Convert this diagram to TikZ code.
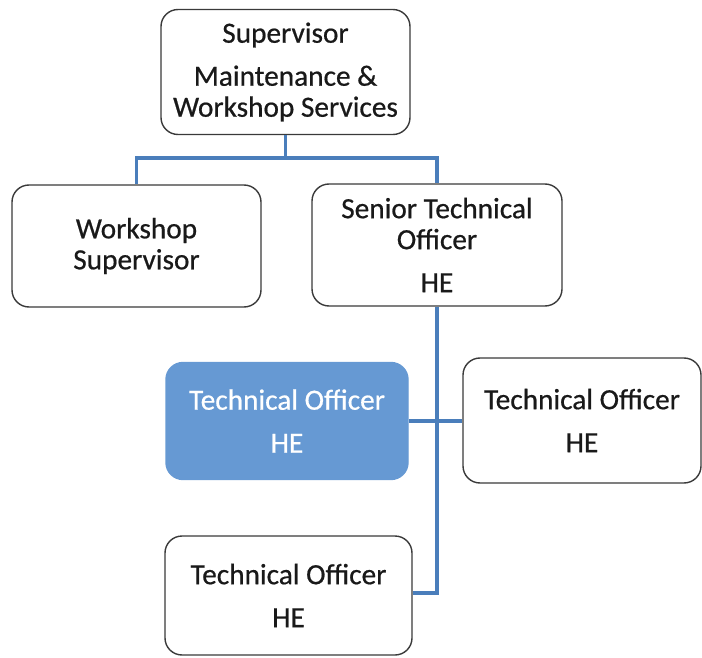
\documentclass[tikz,border=0pt]{standalone}
\usepackage{fontspec}
\setmainfont{Carlito}[UprightFeatures={FakeBold=0.6}]
\definecolor{linkblue}{HTML}{4A7EBB}
\definecolor{boxedge}{HTML}{3A3A3A}
\definecolor{fillblue}{HTML}{6699D3}
\begin{document}
\begin{tikzpicture}[x=1pt,y=-1pt,
  box/.style={draw=boxedge,line width=1.4pt,rounded corners=17pt,fill=white,
    minimum width=#1,align=center,inner sep=0pt,
    font=\fontsize{29.3}{31}\selectfont,text=black!90},
  link/.style={draw=linkblue,line width=3.4pt}]
\useasboundingbox (0,0) rectangle (702,658);
\node[box=249pt,minimum height=125pt] (top) at (285.5,72) {Supervisor\\[12pt]Maintenance \&\\Workshop Services};
\node[box=249pt,minimum height=122pt] (ws) at (136.5,246) {Workshop\\Supervisor};
\node[box=250pt,minimum height=122pt] (sto) at (437,245) {Senior Technical\\Officer\\[12pt]HE};
\node[box=242pt,minimum height=117pt,fill=fillblue,draw=fillblue,text=white] (blue) at (287,421) {Technical Officer\\[12pt]HE};
\node[box=238pt,minimum height=125pt] (rt) at (582,420.5) {Technical Officer\\[12pt]HE};
\node[box=247pt,minimum height=119pt] (bt) at (288.5,595.5) {Technical Officer\\[12pt]HE};
\draw[link] (top.south) -- ++(0,23) coordinate (bar);
\draw[link] (ws.north) |- (bar) -| (sto.north);
\draw[link] (sto.south) |- ([yshift=2.5pt]bt.east);
\draw[link] (blue.east) -- (blue.east -| rt.west);
\end{tikzpicture}
\end{document}
